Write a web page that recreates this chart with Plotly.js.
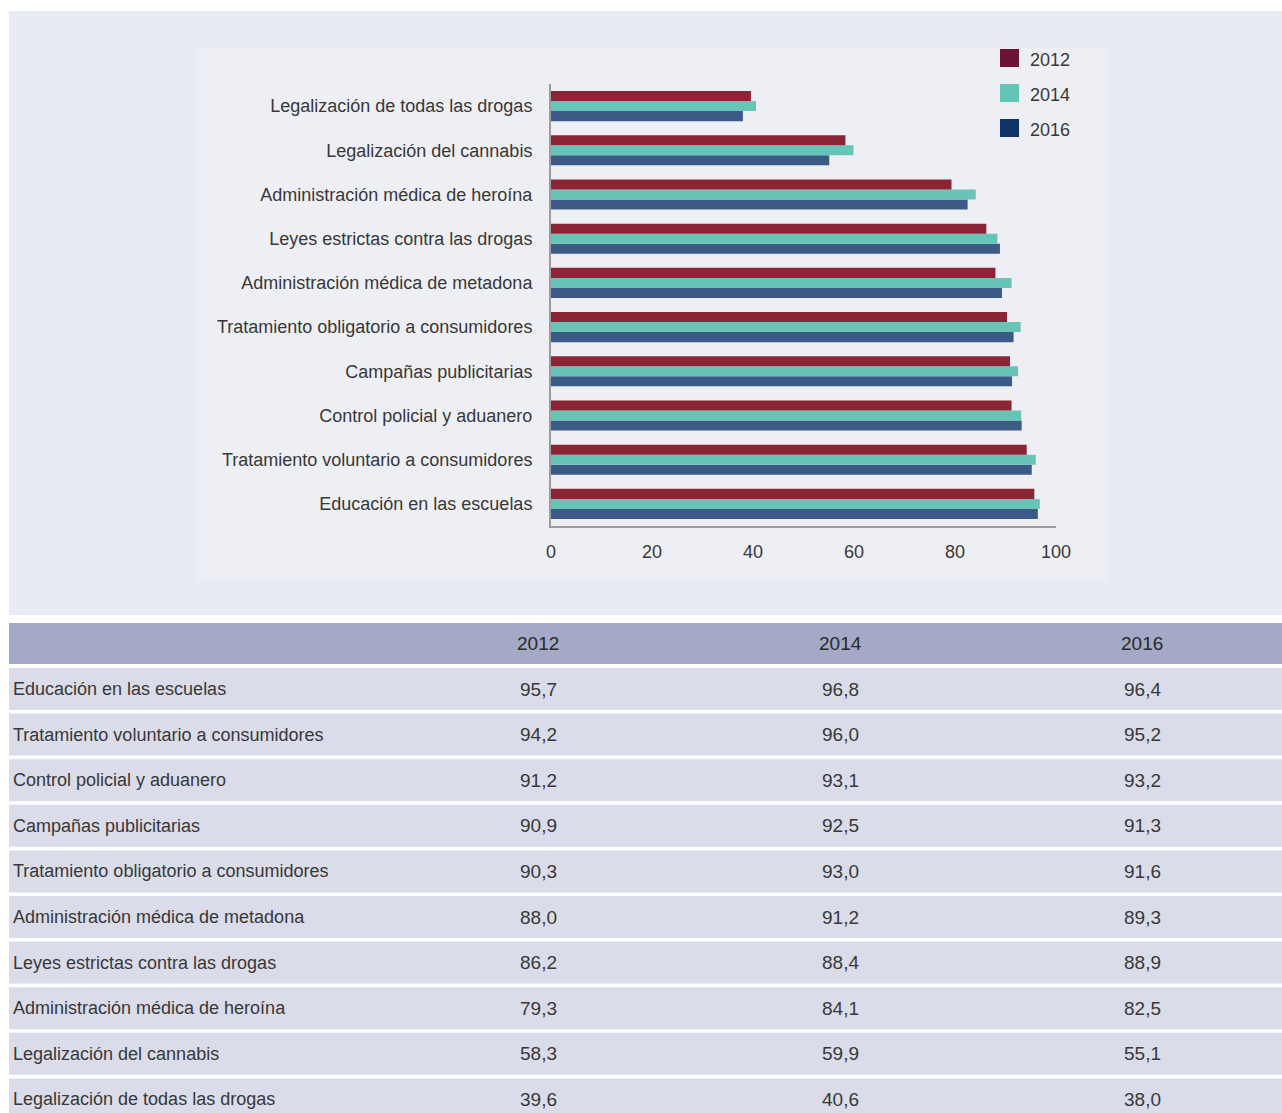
<!DOCTYPE html>
<html>
<head>
<meta charset="utf-8">
<script src="https://cdn.plot.ly/plotly-3.0.1.min.js"></script>
<style>
  html, body { margin: 0; padding: 0; background: #ffffff; }
  #chart { width: 1282px; height: 1113px; }
</style>
</head>
<body>
<div id="chart"></div>
<script>
// Percentages per measure and survey year
const categories = [
  "Educación en las escuelas",
  "Tratamiento voluntario a consumidores",
  "Control policial y aduanero",
  "Campañas publicitarias",
  "Tratamiento obligatorio a consumidores",
  "Administración médica de metadona",
  "Leyes estrictas contra las drogas",
  "Administración médica de heroína",
  "Legalización del cannabis",
  "Legalización de todas las drogas"
];
const years = ["2012", "2014", "2016"];
const v2012 = [95.7, 94.2, 91.2, 90.9, 90.3, 88.0, 86.2, 79.3, 58.3, 39.6];
const v2014 = [96.8, 96.0, 93.1, 92.5, 93.0, 91.2, 88.4, 84.1, 59.9, 40.6];
const v2016 = [96.4, 95.2, 93.2, 91.3, 91.6, 89.3, 88.9, 82.5, 55.1, 38.0];
const xTicks = [0, 20, 40, 60, 80, 100];

const W = 1282, H = 1113;
const px = x => x / W;          // page pixel -> paper x
const py = y => 1 - y / H;      // page pixel -> paper y

const FONT = "Liberation Sans, Arial, Helvetica, sans-serif";
const TXT = "#383838";
const FS = 18;

const barColors = { "2012": "#8b2536", "2014": "#66c5b6", "2016": "#3b5a85" };
const keyColors = { "2012": "#6b1535", "2014": "#64c4b6", "2016": "#0f3567" };
const seriesByYear = { "2012": v2012, "2014": v2014, "2016": v2016 };

// 2016 first so that it sits at the bottom of each group
const traces = ["2016", "2014", "2012"].map(yr => ({
  type: "bar",
  orientation: "h",
  name: yr,
  x: seriesByYear[yr],
  y: categories,
  marker: { color: barColors[yr] },
  showlegend: false,
  hoverinfo: "x+y+name"
}));

const shapes = [];
const annotations = [];

// outer light panel and inner chart panel
shapes.push({ type: "rect", xref: "paper", yref: "paper", layer: "below",
  x0: px(9), x1: px(1282), y0: py(615), y1: py(11),
  fillcolor: "#e8ebf4", line: { width: 0 } });
shapes.push({ type: "rect", xref: "paper", yref: "paper", layer: "below",
  x0: px(197), x1: px(1107), y0: py(580), y1: py(48),
  fillcolor: "#eeeff5", line: { width: 0 } });

// colour key
years.forEach((yr, i) => {
  const top = 49 + i * 35;
  shapes.push({ type: "rect", xref: "paper", yref: "paper",
    x0: px(1000), x1: px(1019), y0: py(top + 18), y1: py(top),
    fillcolor: keyColors[yr], line: { width: 0 } });
  annotations.push({ xref: "paper", yref: "paper", x: px(1028), y: py(top + 11),
    xanchor: "left", yanchor: "middle", showarrow: false, text: yr,
    font: { family: FONT, size: FS, color: TXT } });
});

// data table below the chart
const colCenters = [538, 840, 1142];
shapes.push({ type: "rect", xref: "paper", yref: "paper",
  x0: px(9), x1: px(1282), y0: py(664), y1: py(623),
  fillcolor: "#a3a9c6", line: { width: 0 } });
years.forEach((yr, j) => {
  annotations.push({ xref: "paper", yref: "paper", x: px(colCenters[j]), y: py(643.5),
    xanchor: "center", yanchor: "middle", showarrow: false, text: yr,
    font: { family: FONT, size: FS + 1, color: "#2a2a2a" } });
});
const fmt = v => v.toFixed(1).replace(".", ",");
categories.forEach((cat, i) => {
  const top = 668 + i * 45.6;
  shapes.push({ type: "rect", xref: "paper", yref: "paper",
    x0: px(9), x1: px(1282), y0: py(Math.min(top + 42, H)), y1: py(top),
    fillcolor: "#dadcea", line: { width: 0 } });
  const yc = py(top + 21);
  annotations.push({ xref: "paper", yref: "paper", x: px(11), y: yc,
    xanchor: "left", yanchor: "middle", showarrow: false, text: cat,
    font: { family: FONT, size: FS, color: TXT } });
  [v2012[i], v2014[i], v2016[i]].forEach((v, j) => {
    annotations.push({ xref: "paper", yref: "paper", x: px(colCenters[j]), y: yc,
      xanchor: "center", yanchor: "middle", showarrow: false, text: fmt(v),
      font: { family: FONT, size: FS + 1, color: TXT } });
  });
});

const layout = {
  width: W, height: H,
  margin: { l: 0, r: 0, t: 0, b: 0, pad: 0 },
  paper_bgcolor: "#ffffff",
  plot_bgcolor: "rgba(0,0,0,0)",
  barmode: "group",
  bargap: 0.32,
  bargroupgap: 0,
  showlegend: false,
  font: { family: FONT, size: FS, color: TXT },
  xaxis: {
    domain: [px(551), px(1056)],
    range: [0, 100],
    tickvals: xTicks,
    ticktext: xTicks.map(String),
    ticks: "",
    ticklabelstandoff: 8,
    showgrid: false,
    zeroline: false,
    showline: true,
    linecolor: "#9c9c9c",
    linewidth: 2,
    tickfont: { family: FONT, size: FS, color: TXT },
    fixedrange: true
  },
  yaxis: {
    domain: [py(526), py(84)],
    type: "category",
    range: [-0.5, 9.5],
    ticks: "",
    ticklabelstandoff: 13,
    showgrid: false,
    zeroline: false,
    showline: true,
    linecolor: "#9c9c9c",
    linewidth: 2,
    tickfont: { family: FONT, size: FS, color: TXT },
    fixedrange: true
  },
  shapes: shapes,
  annotations: annotations
};

Plotly.newPlot("chart", traces, layout, { displayModeBar: false, staticPlot: true });
</script>
</body>
</html>
